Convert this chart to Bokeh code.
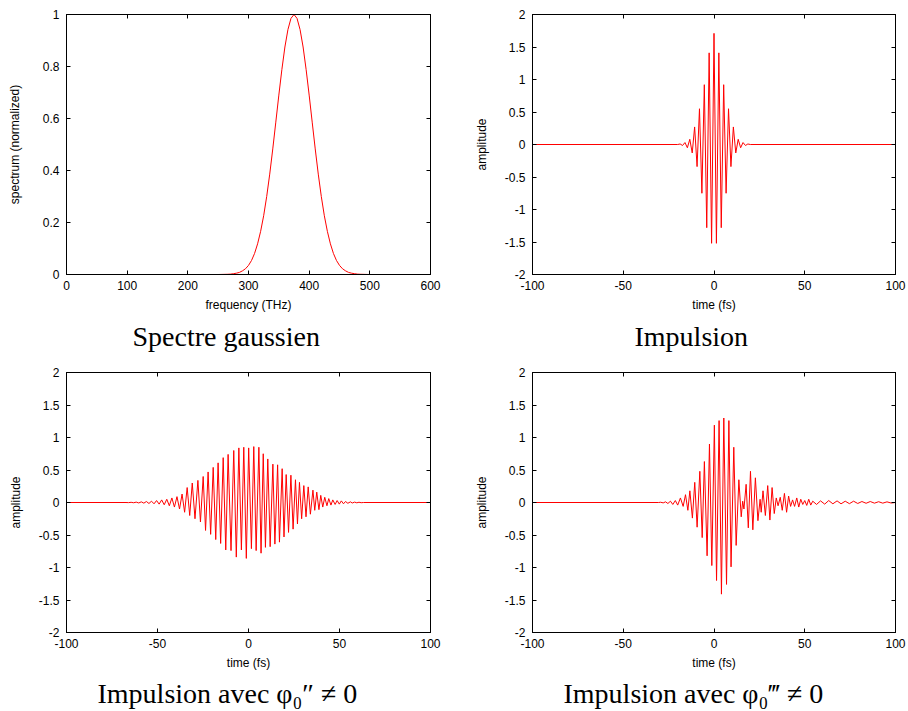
from bokeh.plotting import figure
from bokeh.models import Range1d, FixedTicker, LinearAxis, Title
from bokeh.layouts import column, row
from bokeh.embed import file_html
from bokeh.resources import INLINE

# ---------------- data ----------------
freq_thz = [0, 250, 265, 270, 275, 280, 285, 290, 295, 300, 305, 310, 315, 320, 325,
            330, 335, 340, 345, 350, 355, 360, 365, 370, 375, 380, 385, 390, 395, 400,
            405, 410, 415, 420, 425, 430, 435, 440, 445, 450, 455, 460, 465, 470, 475,
            480, 485, 500, 600]
spectrum = [0, 0, 0.0008, 0.0014, 0.003, 0.005, 0.008, 0.014, 0.022, 0.035, 0.054, 0.081,
            0.118, 0.166, 0.226, 0.300, 0.386, 0.483, 0.586, 0.690, 0.788, 0.875, 0.942,
            0.985, 1.0, 0.985, 0.942, 0.875, 0.788, 0.690, 0.586, 0.483, 0.386, 0.300,
            0.226, 0.166, 0.118, 0.081, 0.054, 0.035, 0.022, 0.014, 0.008, 0.005, 0.003,
            0.0014, 0.0008, 0, 0]

# Impulsion (extrema of the oscillation)
t_pulse = [-100, -20, -18.67, -17.33, -16.0, -14.67, -13.33, -12.0, -10.67, -9.33, -8.0,
           -6.67, -5.33, -4.0, -2.67, -1.33, 0.0, 1.33, 2.67, 4.0, 5.33, 6.67, 8.0, 9.33,
           10.67, 12.0, 13.33, 14.67, 16.0, 17.33, 18.67, 20, 100]
a_pulse = [0, 0, 0.008, -0.015, 0.03, -0.05, 0.08, -0.13, 0.27, -0.34, 0.55, -0.75, 0.92,
           -1.28, 1.41, -1.52, 1.71, -1.52, 1.41, -1.28, 0.92, -0.75, 0.55, -0.34, 0.27,
           -0.13, 0.08, -0.05, 0.03, -0.015, 0.008, 0, 0]

# Impulsion avec phi0'' != 0 (chirped)
t_chirp = [-100, -67.3, -65.9, -64.5, -63.1, -61.7, -60.3, -58.9, -57.5, -56.1, -54.7, -53.3,
           -51.9, -50.5, -49.1, -47.7, -46.3, -44.9, -43.5, -42.1, -40.7, -39.3, -37.9, -36.5,
           -35.1, -33.7, -32.3, -30.9, -29.4, -27.8, -26.4, -24.9, -23.6, -22.2, -20.8, -19.4,
           -18.0, -16.7, -15.3, -13.9, -12.5, -11.2, -9.6, -8.1, -6.7, -5.3, -3.9, -2.6, -1.2,
           0.1, 1.6, 2.9, 4.2, 5.7, 6.9, 8.1, 9.3, 10.6, 11.9, 13.4, 14.5, 16.0, 17.0, 18.5,
           19.5, 20.7, 22.0, 23.3, 24.5, 25.8, 26.9, 28.0, 29.2, 30.4, 31.6, 32.8, 34.0, 35.4,
           36.4, 37.5, 38.7, 39.7, 40.8, 41.9, 43.1, 44.1, 45.3, 46.3, 47.6, 48.7, 49.9, 51.0,
           52.2, 53.3, 54.6, 56.0, 57.0, 58.3, 59.5, 60.7, 61.9, 63.2, 100]
a_chirp = [0, 0, -0.002, 0.003, -0.004, 0.006, -0.007, 0.01, -0.01, 0.015, -0.015, 0.02,
           -0.02, 0.03, -0.025, 0.04, -0.035, 0.05, -0.05, 0.07, -0.07, 0.09, -0.10, 0.13,
           -0.15, 0.23, -0.20, 0.30, -0.25, 0.34, -0.30, 0.40, -0.43, 0.47, -0.49, 0.54,
           -0.57, 0.61, -0.63, 0.69, -0.73, 0.74, -0.74, 0.80, -0.84, 0.84, -0.73, 0.85, -0.86,
           0.84, -0.71, 0.86, -0.74, 0.85, -0.78, 0.75, -0.69, 0.67, -0.68, 0.59, -0.64, 0.58,
           -0.61, 0.52, -0.53, 0.43, -0.46, 0.42, -0.41, 0.35, -0.33, 0.31, -0.25, 0.26, -0.22,
           0.24, -0.18, 0.19, -0.12, 0.16, -0.11, 0.11, -0.07, 0.08, -0.05, 0.06, -0.04, 0.04,
           -0.03, 0.03, -0.025, 0.025, -0.02, 0.015, -0.012, 0.01, -0.008, 0.006, -0.005,
           0.004, -0.003, 0, 0]

# Impulsion avec phi0''' != 0 (third order)
t_tod = [-100, -30.5, -29.4, -28.0, -26.7, -25.4, -24.0, -22.7, -21.3, -20.0, -18.5, -17.0,
         -15.7, -14.4, -13.3, -11.9, -10.6, -9.3, -7.8, -6.5, -5.3, -3.8, -2.5, -1.2, 0.2, 1.4,
         2.8, 4.1, 5.4, 6.9, 8.2, 9.4, 10.9, 12.2, 13.7, 15.0, 15.8, 16.5, 17.7, 18.9, 20.1,
         21.4, 22.8, 24.2, 25.4, 26.0, 27.0, 28.3, 29.6, 30.8, 32.0, 33.2, 34.3, 35.3, 36.5,
         37.6, 38.8, 40.0, 41.1, 42.2, 43.3, 44.4, 45.6, 46.7, 47.8, 48.9, 50.0, 51.1, 52.2,
         53.3, 54.4, 56.5, 58.7, 61.0, 63.2, 65.5, 67.8, 70.0, 72.3, 74.6, 76.9, 79.2, 81.5,
         83.8, 86.1, 88.4, 90.7, 93.0, 95.3, 97.6, 100]
a_tod = [0, 0, 0.004, -0.006, 0.01, -0.015, 0.02, -0.03, 0.03, -0.04, 0.07, -0.06, 0.12,
         -0.12, 0.18, -0.24, 0.31, -0.38, 0.48, -0.54, 0.63, -0.82, 0.90, -0.97, 1.19, -1.20,
         1.26, -1.41, 1.30, -1.26, 1.26, -0.99, 0.85, -0.66, 0.35, -0.22, 0.02, -0.10, 0.28,
         -0.39, 0.48, -0.42, 0.38, -0.28, 0.05, -0.15, 0.18, -0.20, 0.26, -0.27, 0.23, -0.17,
         0.07, -0.05, 0.08, -0.12, 0.14, -0.15, 0.10, -0.06, 0.04, -0.06, 0.07, -0.07, 0.05,
         -0.03, 0.03, -0.045, 0.05, -0.04, 0.02, -0.03, 0.025, -0.025, 0.03, -0.02, 0.025,
         -0.02, 0.02, -0.018, 0.02, -0.015, 0.015, -0.012, 0.015, -0.01, 0.012, -0.01, 0.01,
         -0.008, 0]

spec_xticks = [0, 100, 200, 300, 400, 500, 600]
spec_xlabels = ["0", "100", "200", "300", "400", "500", "600"]
spec_yticks = [0, 0.2, 0.4, 0.6, 0.8, 1.0]
spec_ylabels = ["0", "0.2", "0.4", "0.6", "0.8", "1"]
time_ticks = [-100, -50, 0, 50, 100]
time_labels = ["-100", "-50", "0", "50", "100"]
amp_ticks = [-2, -1.5, -1, -0.5, 0, 0.5, 1, 1.5, 2]
amp_labels = ["-2", "-1.5", "-1", "-0.5", "0", "0.5", "1", "1.5", "2"]

captions = ["Spectre gaussien", "Impulsion",
            "Impulsion avec \u03c6\u2080\u2033 \u2260 0", "Impulsion avec \u03c6\u2080\u2034 \u2260 0"]

SANS = "Liberation Sans"
SERIF = "Liberation Serif"


def style_axis(ax, ticks, labels=None, show_labels=True):
    ax.ticker = FixedTicker(ticks=ticks)
    ax.major_tick_in = 4
    ax.major_tick_out = 0
    ax.major_tick_line_color = "black"
    ax.minor_tick_line_color = None
    ax.axis_line_color = "black"
    if show_labels:
        ax.major_label_overrides = dict(zip(ticks, labels))
        ax.major_label_text_font = SANS
        ax.major_label_text_font_size = "12px"
        ax.major_label_text_color = "black"
        ax.axis_label_text_font = SANS
        ax.axis_label_text_font_size = "12px"
        ax.axis_label_text_font_style = "normal"
        ax.axis_label_text_color = "black"
    else:
        ax.major_label_text_font_size = "0px"
        ax.major_label_text_alpha = 0
        ax.major_label_standoff = 0


def make_panel(xs, ys, xr, yr, xt, xl, yt, yl, xlabel, ylabel, width, height,
               bl, br, bt, bb, ylab_standoff, caption, cap_offset, cap_standoff):
    p = figure(width=width, height=height, x_range=Range1d(*xr), y_range=Range1d(*yr),
               output_backend="svg", toolbar_location=None,
               min_border_left=bl, min_border_right=br, min_border_top=bt,
               min_border_bottom=bb)
    p.grid.visible = False
    p.outline_line_color = "black"
    p.outline_line_alpha = 1
    p.outline_line_width = 1
    p.background_fill_color = "white"
    p.border_fill_color = "white"
    p.line(xs, ys, line_color="#ff0000", line_width=1)

    style_axis(p.xaxis[0], xt, xl)
    p.xaxis[0].axis_label = xlabel
    p.xaxis[0].major_label_standoff = 6
    p.xaxis[0].axis_label_standoff = 5
    style_axis(p.yaxis[0], yt, yl)
    p.yaxis[0].axis_label = ylabel
    p.yaxis[0].major_label_standoff = 7
    p.yaxis[0].axis_label_standoff = ylab_standoff

    ax_r = LinearAxis()
    style_axis(ax_r, yt, show_labels=False)
    p.add_layout(ax_r, "right")
    ax_t = LinearAxis()
    style_axis(ax_t, xt, show_labels=False)
    p.add_layout(ax_t, "above")

    p.add_layout(Title(text=caption, align="left", offset=cap_offset,
                       standoff=cap_standoff, text_font=SERIF, text_font_size="28px",
                       text_font_style="normal", text_color="black"), "below")
    return p


p1 = make_panel(freq_thz, spectrum, (0, 600), (0, 1), spec_xticks, spec_xlabels,
                spec_yticks, spec_ylabels, "frequency (THz)", "spectrum (normalized)",
                454, 358, 66, 24, 14, 84, 18, captions[0], 66, 9)
p2 = make_panel(t_pulse, a_pulse, (-100, 100), (-2, 2), time_ticks, time_labels,
                amp_ticks, amp_labels, "time (fs)", "amplitude",
                454, 358, 78, 13, 14, 84, 13, captions[1], 102, 9)
p3 = make_panel(t_chirp, a_chirp, (-100, 100), (-2, 2), time_ticks, time_labels,
                amp_ticks, amp_labels, "time (fs)", "amplitude",
                454, 353, 66, 24, 14, 79, 13, captions[2], 31, 6)
p4 = make_panel(t_tod, a_tod, (-100, 100), (-2, 2), time_ticks, time_labels,
                amp_ticks, amp_labels, "time (fs)", "amplitude",
                454, 353, 78, 13, 14, 79, 13, captions[3], 31, 6)

layout = column(row(p1, p2), row(p3, p4))
open("out.html", "w").write(file_html(layout, INLINE))
